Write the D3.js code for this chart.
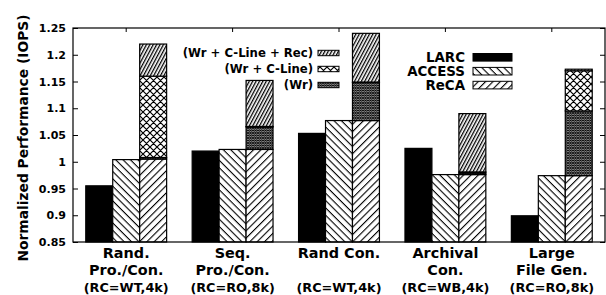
<!DOCTYPE html>
<html>
<head>
<meta charset="utf-8">
<script src="https://cdn.jsdelivr.net/npm/d3@7"></script>
<style>
  body { margin: 0; background: #fff; }
  svg text { font-family: "DejaVu Sans", sans-serif; font-weight: bold; fill: #000; }
</style>
</head>
<body>
<div id="chart-area"></div>
<script>

/* data */
const categories = ["randPC", "seqPC", "randCon", "archival", "largeFile"];
const labelLines = [
    ["Rand.", "Pro./Con."],
    ["Seq.", "Pro./Con."],
    ["Rand Con.", ""],
    ["Archival", "Con."],
    ["Large", "File Gen."]
];
const labelConfig = ["(RC=WT,4k)", "(RC=RO,8k)", "(RC=WT,4k)", "(RC=WB,4k)", "(RC=RO,8k)"];

const larc = [0.955, 1.020, 1.053, 1.025, 0.899];
const access = [1.004, 1.023, 1.077, 0.976, 0.974];
const reca = [1.005, 1.023, 1.077, 0.976, 0.974];
// cumulative tops of the ReCA stack
const recaWr = [1.008, 1.065, 1.148, 0.979, 1.095];
const recaWrCLine = [1.160, 1.066, 1.149, 0.981, 1.170];
const recaWrCLineRec = [1.220, 1.152, 1.240, 1.090, 1.173];

const yTicks = [0.85, 0.9, 0.95, 1, 1.05, 1.1, 1.15, 1.2, 1.25];

/* graphical constants */
const W = 606, H = 295;
const margin = { left: 73, right: 1, top: 28, bottom: 53 };
const width = W - margin.left - margin.right;
const height = H - margin.top - margin.bottom;

const svg = d3.select("#chart-area")
    .append("svg")
    .attr("width", W)
    .attr("height", H);

// patterns
const defs = svg.append("defs");

function stripes(id, angle, gap, lw) {
    const p = defs.append("pattern")
        .attr("id", id)
        .attr("patternUnits", "userSpaceOnUse")
        .attr("width", 10)
        .attr("height", gap)
        .attr("patternTransform", "rotate(" + angle + ")");
    p.append("rect").attr("width", 10).attr("height", gap).attr("fill", "white");
    p.append("rect").attr("width", 10).attr("height", lw).attr("fill", "black");
}
stripes("pat-access", 45, 5.2, 1.1);
stripes("pat-reca", -45, 5.2, 1.1);
stripes("pat-rec", -62, 3.0, 1.3);

function cross(id, s, lw) {
    const p = defs.append("pattern")
        .attr("id", id)
        .attr("patternUnits", "userSpaceOnUse")
        .attr("width", s)
        .attr("height", s);
    p.append("rect").attr("width", s).attr("height", s).attr("fill", "white");
    p.append("path")
        .attr("d", `M0,0L${s},${s}M0,${s}L${s},0M${-s/2},${s/2}L${s/2},${-s/2}M${s/2},${s*1.5}L${s*1.5},${s/2}`)
        .attr("stroke", "black")
        .attr("stroke-width", lw);
}
cross("pat-cline", 7, 1.2);
cross("pat-wr", 2.5, 1.0);

const fills = {
    LARC: "black",
    ACCESS: "url(#pat-access)",
    ReCA: "url(#pat-reca)",
    Wr: "url(#pat-wr)",
    CLine: "url(#pat-cline)",
    Rec: "url(#pat-rec)"
};

const g = svg.append("g")
    .attr("transform", "translate(" + margin.left + ", " + margin.top + ")");

// Scales
const y = d3.scaleLinear()
    .domain([0.85, 1.25])
    .range([height, 0]);

const x0 = d3.scaleBand()
    .domain(categories)
    .range([0, width])
    .padding(0);

const groupW = x0.bandwidth() * 0.76;
const x1 = d3.scaleBand()
    .domain(["LARC", "ACCESS", "ReCA"])
    .range([0, groupW]);
const offset = (x0.bandwidth() - groupW) / 2;

// build segments
const segs = [];
categories.forEach((c, i) => {
    segs.push({ c, s: "LARC", lo: 0.85, hi: larc[i], fill: fills.LARC });
    segs.push({ c, s: "ACCESS", lo: 0.85, hi: access[i], fill: fills.ACCESS });
    segs.push({ c, s: "ReCA", lo: 0.85, hi: reca[i], fill: fills.ReCA });
    segs.push({ c, s: "ReCA", lo: reca[i], hi: recaWr[i], fill: fills.Wr });
    segs.push({ c, s: "ReCA", lo: recaWr[i], hi: recaWrCLine[i], fill: fills.CLine });
    segs.push({ c, s: "ReCA", lo: recaWrCLine[i], hi: recaWrCLineRec[i], fill: fills.Rec });
});

g.selectAll("rect.bar")
    .data(segs)
    .enter()
    .append("rect")
    .attr("class", "bar")
    .attr("x", d => x0(d.c) + offset + x1(d.s))
    .attr("width", x1.bandwidth())
    .attr("y", d => y(d.hi))
    .attr("height", d => Math.max(0, y(d.lo) - y(d.hi)))
    .attr("fill", d => d.fill)
    .attr("stroke", "black")
    .attr("stroke-width", 1.2);

// Axes (gnuplot style, ticks inward, mirrored)
const fmt = d => String(+d.toFixed(2));
const yAxisL = g.append("g")
    .call(d3.axisLeft(y).tickValues(yTicks).tickSize(-5).tickPadding(7).tickFormat(fmt));
yAxisL.selectAll("text").style("font-size", "11px");

g.append("g")
    .attr("transform", "translate(" + width + ",0)")
    .call(d3.axisRight(y).tickValues(yTicks).tickSize(-5).tickFormat(""));

g.append("g")
    .call(d3.axisTop(x0).tickSize(-4).tickFormat(""));

g.selectAll(".domain").remove();
g.selectAll(".tick line").attr("stroke", "black");

// frame
g.append("rect")
    .attr("width", width)
    .attr("height", height)
    .attr("fill", "none")
    .attr("stroke", "black")
    .attr("stroke-width", 1.2);

// category labels
const lab = g.selectAll("g.xlab")
    .data(categories)
    .enter()
    .append("g")
    .attr("class", "xlab")
    .attr("transform", d => "translate(" + (x0(d) + x0.bandwidth() / 2) + ",0)");

lab.append("text")
    .attr("y", height + 16)
    .attr("text-anchor", "middle")
    .style("font-size", "14.4px")
    .text((d, i) => labelLines[i][0]);
lab.append("text")
    .attr("y", height + 33)
    .attr("text-anchor", "middle")
    .style("font-size", "14.4px")
    .text((d, i) => labelLines[i][1]);
lab.append("text")
    .attr("y", height + 49.5)
    .attr("text-anchor", "middle")
    .style("font-size", "12.8px")
    .text((d, i) => labelConfig[i]);

// y label
svg.append("text")
    .attr("transform", "translate(28,138) rotate(-90)")
    .attr("text-anchor", "middle")
    .style("font-size", "13.8px")
    .text("Normalized Performance (IOPS)");

// legend 1 (ReCA breakdown)
const legend1 = [
    { name: "(Wr + C-Line + Rec)", fill: fills.Rec },
    { name: "(Wr + C-Line)", fill: fills.CLine },
    { name: "(Wr)", fill: fills.Wr }
];
const l1 = svg.append("g").attr("transform", "translate(313,53)");
legend1.forEach((d, i) => {
    l1.append("text")
        .attr("y", i * 16)
        .attr("dy", "0.36em")
        .attr("text-anchor", "end")
        .style("font-size", "11.7px")
        .text(d.name);
    l1.append("rect")
        .attr("x", 5)
        .attr("y", i * 16 - 2.7)
        .attr("width", 21)
        .attr("height", 5.4)
        .attr("fill", d.fill)
        .attr("stroke", "black")
        .attr("stroke-width", 1);
});

// legend 2 (systems)
const legend2 = [
    { name: "LARC", fill: fills.LARC },
    { name: "ACCESS", fill: fills.ACCESS },
    { name: "ReCA", fill: fills.ReCA }
];
const l2 = svg.append("g").attr("transform", "translate(465,57.3)");
legend2.forEach((d, i) => {
    l2.append("text")
        .attr("y", i * 13.9)
        .attr("dy", "0.36em")
        .attr("text-anchor", "end")
        .style("font-size", "13.4px")
        .text(d.name);
    l2.append("rect")
        .attr("x", 8)
        .attr("y", i * 13.9 - 3.8)
        .attr("width", 39)
        .attr("height", 7.6)
        .attr("fill", d.fill)
        .attr("stroke", "black")
        .attr("stroke-width", 1);
});

</script>
</body>
</html>
